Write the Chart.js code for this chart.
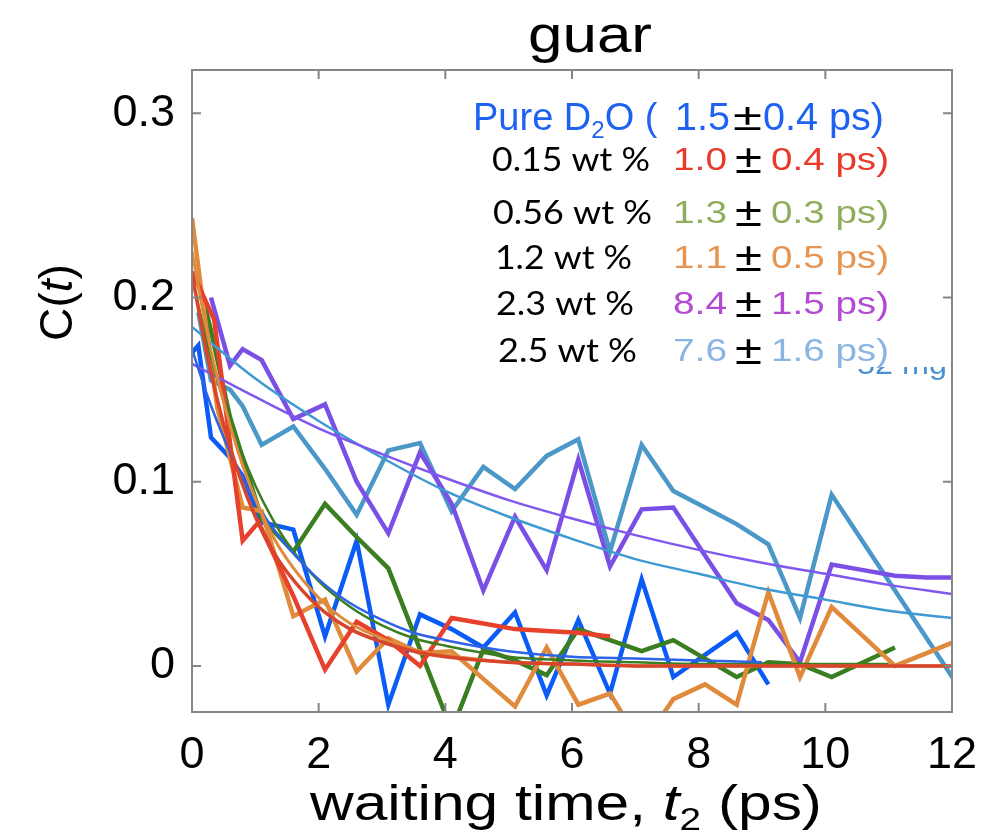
<!DOCTYPE html>
<html>
<head>
<meta charset="utf-8">
<title>guar</title>
<script src="https://cdn.jsdelivr.net/npm/chart.js@4.4.1/dist/chart.umd.min.js"></script>
<style>
  html, body { margin: 0; padding: 0; background: #fff; }
  #wrap { width: 987px; height: 832px; }
</style>
</head>
<body>
<div id="wrap"><canvas id="corrChart" width="987" height="832"></canvas></div>
<script>
// axis ticks
const xTicks = [0, 2, 4, 6, 8, 10, 12];
const yTicks = [0, 0.1, 0.2, 0.3];

// measured C(t) curves, t2 in ps
const d2oT = [0.0, 0.1, 0.3, 0.6, 0.8, 1.1, 1.6, 2.1, 2.6, 3.1, 3.6, 4.1, 4.6, 5.1, 5.6, 6.1, 6.6, 7.1, 7.6, 8.1, 8.6, 9.1];
const d2oC = [0.170, 0.174, 0.124, 0.113, 0.103, 0.078, 0.074, 0.016, 0.068, -0.021, 0.028, 0.020, 0.010, 0.029, -0.016, 0.025, -0.015, 0.047, -0.006, 0.006, 0.018, -0.010];

const w015T = [0.0, 0.15, 0.35, 0.8, 1.05, 1.6, 2.1, 2.6, 3.1, 3.6, 4.1, 4.6, 5.1, 5.6, 6.1, 6.6];
const w015C = [0.214, 0.203, 0.188, 0.068, 0.078, 0.038, -0.002, 0.024, 0.014, 0.000, 0.026, 0.023, 0.020, 0.019, 0.018, 0.016];

const w056T = [0.1, 0.3, 0.6, 1.1, 1.6, 2.1, 2.6, 3.1, 4.1, 4.6, 5.1, 5.6, 6.1, 6.6, 7.1, 7.6, 8.1, 8.6, 9.1, 9.6, 10.1, 10.6, 11.1];
const w056C = [0.210, 0.182, 0.135, 0.080, 0.062, 0.088, 0.070, 0.053, -0.035, 0.009, 0.003, -0.005, 0.020, 0.014, 0.008, 0.014, 0.004, -0.006, 0.002, 0.001, -0.006, 0.002, 0.010];

const w12T = [0.0, 0.2, 0.4, 0.8, 1.1, 1.6, 2.1, 2.6, 3.1, 3.6, 4.1, 4.6, 5.1, 5.6, 6.1, 6.6, 7.1, 7.6, 8.1, 8.6, 9.1, 9.6, 10.1, 10.6, 11.1, 11.6, 12.1];
const w12C = [0.243, 0.190, 0.140, 0.086, 0.084, 0.027, 0.036, -0.003, 0.015, 0.007, 0.008, -0.007, -0.022, 0.010, -0.021, -0.015, -0.043, -0.018, -0.010, -0.021, 0.040, -0.006, 0.032, 0.016, 0.000, 0.007, 0.014];

const w23T = [0.3, 0.6, 0.8, 1.1, 1.6, 2.1, 2.6, 3.1, 3.6, 4.1, 4.6, 5.1, 5.6, 6.1, 6.6, 7.1, 7.6, 8.1, 8.6, 9.1, 9.6, 10.1, 10.6, 11.1, 11.6, 12.1];
const w23C = [0.200, 0.163, 0.172, 0.166, 0.134, 0.142, 0.100, 0.072, 0.116, 0.088, 0.041, 0.081, 0.052, 0.112, 0.054, 0.085, 0.086, 0.060, 0.034, 0.025, 0.002, 0.055, 0.052, 0.049, 0.048, 0.048];

const w25T = [0.1, 0.3, 0.6, 0.8, 1.1, 1.6, 2.1, 2.6, 3.1, 3.6, 4.1, 4.6, 5.1, 5.6, 6.1, 6.6, 7.1, 7.6, 8.1, 8.6, 9.1, 9.6, 10.1, 10.6, 11.1, 11.6, 12.1];
const w25C = [0.192, 0.155, 0.150, 0.141, 0.120, 0.130, 0.107, 0.082, 0.117, 0.121, 0.084, 0.108, 0.096, 0.114, 0.123, 0.062, 0.120, 0.095, 0.086, 0.077, 0.066, 0.026, 0.093, 0.067, 0.041, 0.015, -0.011];

// fitted decays
const fastFitT = [0, 0.25, 0.5, 0.75, 1, 1.25, 1.5, 2, 2.5, 3, 3.5, 4, 5, 6, 7, 8, 9, 10, 11, 12];
const d2oFit = [0.172, 0.146, 0.124, 0.105, 0.089, 0.076, 0.065, 0.047, 0.034, 0.025, 0.018, 0.014, 0.008, 0.005, 0.004, 0.003, 0.002];
const w015Fit = [0.213, 0.167, 0.131, 0.103, 0.081, 0.064, 0.051, 0.032, 0.020, 0.013, 0.008, 0.005, 0.002, 0.001, 0, 0, 0, 0, 0, 0];
const w056Fit = [0.211, 0.174, 0.144, 0.119, 0.098, 0.081, 0.067, 0.046, 0.032, 0.022, 0.015, 0.011, 0.005, 0.003, 0.002, 0.001, 0.001, 0.001, 0.001];
const w12Fit = [0.225, 0.179, 0.143, 0.114, 0.091, 0.072, 0.058, 0.037, 0.023, 0.015, 0.009, 0.006, 0.002, 0.001, 0, 0, 0, 0, 0, 0];

const slowFitT = [0, 1, 2, 3, 4, 5, 6, 7, 8, 9, 10, 11, 12];
const w23Fit = [0.164, 0.146, 0.129, 0.115, 0.102, 0.090, 0.080, 0.071, 0.063, 0.056, 0.050, 0.044, 0.039];
const w25Fit = [0.184, 0.156, 0.133, 0.113, 0.095, 0.081, 0.069, 0.058, 0.050, 0.042, 0.036, 0.030, 0.026];

// legend text
const concLabels = ['0.15 wt %', '0.56 wt %', '1.2 wt %', '2.3 wt %', '2.5 wt %'];
const tauMeans = ['1.0', '1.3', '1.1', '8.4', '7.6'];
const tauErrs = ['0.4', '0.3', '0.5', '1.5', '1.6'];
const d2oTau = ['1.5', '0.4'];

const SANS = '"Liberation Sans", Arial, Helvetica, sans-serif';
const LABEL = 'Lato, "Open Sans", sans-serif';

const lineColors = ['#0b5cf6', '#e8412b', '#3b7e22', '#e08b3c', '#7a4fe6', '#4b98c8'];
const textColors = ['#1f62f2', '#e8392b', '#8fae5c', '#e69452', '#b24bd2', '#8ab5e2'];

const pts = (ts, vs) => vs.map((v, i) => ({ x: ts[i], y: v }));

function dataLine(ts, vs, color) {
    return {
        data: pts(ts, vs),
        borderColor: color,
        borderWidth: 4.5,
        pointRadius: 0,
        tension: 0,
        fill: false,
    };
}

function fitLine(ts, vs, color, width) {
    return {
        data: pts(ts, vs),
        borderColor: color,
        borderWidth: width,
        pointRadius: 0,
        cubicInterpolationMode: 'monotone',
        fill: false,
    };
}

// draws a row of text runs squeezed/stretched to a given width
function drawRuns(ctx, runs, x, baseline, width) {
    let natural = 0;
    runs.forEach(r => {
        ctx.font = r.font;
        natural += ctx.measureText(r.text).width;
    });
    const sx = width ? width / natural : 1;
    ctx.save();
    ctx.translate(x, baseline);
    ctx.scale(sx, 1);
    ctx.textAlign = 'left';
    ctx.textBaseline = 'alphabetic';
    let cx = 0;
    runs.forEach(r => {
        ctx.font = r.font;
        ctx.fillStyle = r.color || '#000';
        ctx.fillText(r.text, cx, r.dy || 0);
        cx += ctx.measureText(r.text).width;
    });
    ctx.restore();
}

const decorations = {
    id: 'decorations',
    afterDraw(chart) {
        const ctx = chart.ctx;
        const area = chart.chartArea;
        const xs = chart.scales.x;
        const ys = chart.scales.y;

        // frame with inward ticks
        ctx.save();
        ctx.strokeStyle = '#858585';
        ctx.lineWidth = 2;
        ctx.strokeRect(area.left, area.top, area.right - area.left, area.bottom - area.top);
        ctx.beginPath();
        xTicks.forEach(v => {
            const px = xs.getPixelForValue(v);
            ctx.moveTo(px, area.bottom); ctx.lineTo(px, area.bottom - 9);
            ctx.moveTo(px, area.top); ctx.lineTo(px, area.top + 9);
        });
        yTicks.forEach(v => {
            const py = ys.getPixelForValue(v);
            ctx.moveTo(area.left, py); ctx.lineTo(area.left + 9, py);
            ctx.moveTo(area.right, py); ctx.lineTo(area.right - 9, py);
        });
        ctx.stroke();
        ctx.restore();

        // title and axis titles
        drawRuns(ctx, [{ text: 'guar', font: '52px ' + SANS }], 528, 52, 124);
        drawRuns(ctx, [
            { text: 'waiting time, ', font: '50px ' + SANS },
            { text: 't', font: 'italic 50px ' + SANS },
            { text: '2', font: '32px ' + SANS, dy: 10 },
            { text: ' (ps)', font: '50px ' + SANS },
        ], 310, 820, 512);

        ctx.save();
        ctx.translate(72, 341);
        ctx.rotate(-Math.PI / 2);
        drawRuns(ctx, [
            { text: 'C(', font: '47px ' + SANS },
            { text: 't', font: 'italic 47px ' + SANS },
            { text: ')', font: '47px ' + SANS },
        ], 0, 0, 77);
        ctx.restore();

        // legend: pure D2O row
        drawRuns(ctx, [
            { text: 'Pure D', font: '38px ' + SANS, color: textColors[0] },
            { text: '2', font: '24px ' + SANS, color: textColors[0], dy: 8 },
            { text: 'O ( ', font: '38px ' + SANS, color: textColors[0] },
        ], 473, 130, 195);
        drawRuns(ctx, [{ text: d2oTau[0], font: '38px ' + SANS, color: textColors[0] }], 675, 130, 55);
        drawRuns(ctx, [{ text: '±', font: '38px ' + SANS }], 733, 130, 29);
        drawRuns(ctx, [{ text: d2oTau[1] + ' ps)', font: '38px ' + SANS, color: textColors[0] }], 763, 130, 121);

        // legend: guar concentrations
        const rowBase = [170, 223, 268, 314, 361];
        const labelX = [492, 493, 495, 496, 498];
        const labelW = [158, 159, 137, 138, 139];
        concLabels.forEach((lab, i) => {
            const y = rowBase[i];
            drawRuns(ctx, [{ text: lab, font: '32px ' + LABEL }], labelX[i], y + 1, labelW[i]);
            drawRuns(ctx, [{ text: tauMeans[i], font: '32px ' + SANS, color: textColors[i + 1] }], 673, y, 54);
            drawRuns(ctx, [{ text: '±', font: '40px ' + SANS }], 735, y + 3, 27);
            drawRuns(ctx, [{ text: tauErrs[i] + ' ps)', font: '32px ' + SANS, color: textColors[i + 1] }], 771, y, 118);
        });

        // partly hidden sample mass under the legend
        ctx.save();
        ctx.beginPath();
        ctx.rect(850, 367, 110, 20);
        ctx.clip();
        drawRuns(ctx, [{ text: '52 mg', font: '30px ' + SANS, color: '#4a90d2' }], 857, 374, 90);
        ctx.restore();
    },
};

const ctx = document.getElementById('corrChart').getContext('2d');

new Chart(ctx, {
    type: 'line',
    data: {
        datasets: [
            fitLine(fastFitT, w015Fit, '#d8452b', 3.5),
            fitLine(fastFitT, w12Fit, '#e08b3c', 3),
            fitLine(fastFitT, d2oFit, '#2d63e6', 2.5),
            fitLine(fastFitT, w056Fit, '#3b7e22', 2.5),
            fitLine(slowFitT, w23Fit, '#8158ee', 2.5),
            fitLine(slowFitT, w25Fit, '#3e9ad2', 2.5),
            dataLine(w015T, w015C, lineColors[1]),
            dataLine(w12T, w12C, lineColors[3]),
            dataLine(w056T, w056C, lineColors[2]),
            dataLine(d2oT, d2oC, lineColors[0]),
            dataLine(w23T, w23C, lineColors[4]),
            dataLine(w25T, w25C, lineColors[5]),
        ],
    },
    options: {
        responsive: false,
        animation: false,
        devicePixelRatio: 1,
        layout: { padding: { top: 70, right: 35, left: 0, bottom: 0 } },
        plugins: {
            legend: { display: false },
            title: { display: false },
            tooltip: { enabled: false },
        },
        scales: {
            x: {
                type: 'linear',
                min: 0,
                max: 12,
                grid: { display: false },
                border: { display: false },
                afterBuildTicks: scale => { scale.ticks = xTicks.map(v => ({ value: v })); },
                afterFit: scale => { scale.height = 120; },
                ticks: {
                    color: '#000',
                    padding: 9,
                    maxRotation: 0,
                    font: { family: SANS, size: 45 },
                },
            },
            y: {
                min: -0.025,
                max: 0.3235,
                grid: { display: false },
                border: { display: false },
                afterBuildTicks: scale => { scale.ticks = yTicks.map(v => ({ value: v })); },
                afterFit: scale => { scale.width = 192; },
                ticks: {
                    color: '#000',
                    padding: 9,
                    font: { family: SANS, size: 45 },
                    callback: v => (v === 0 ? '0' : v.toFixed(1)),
                },
            },
        },
    },
    plugins: [decorations],
});
</script>
</body>
</html>
